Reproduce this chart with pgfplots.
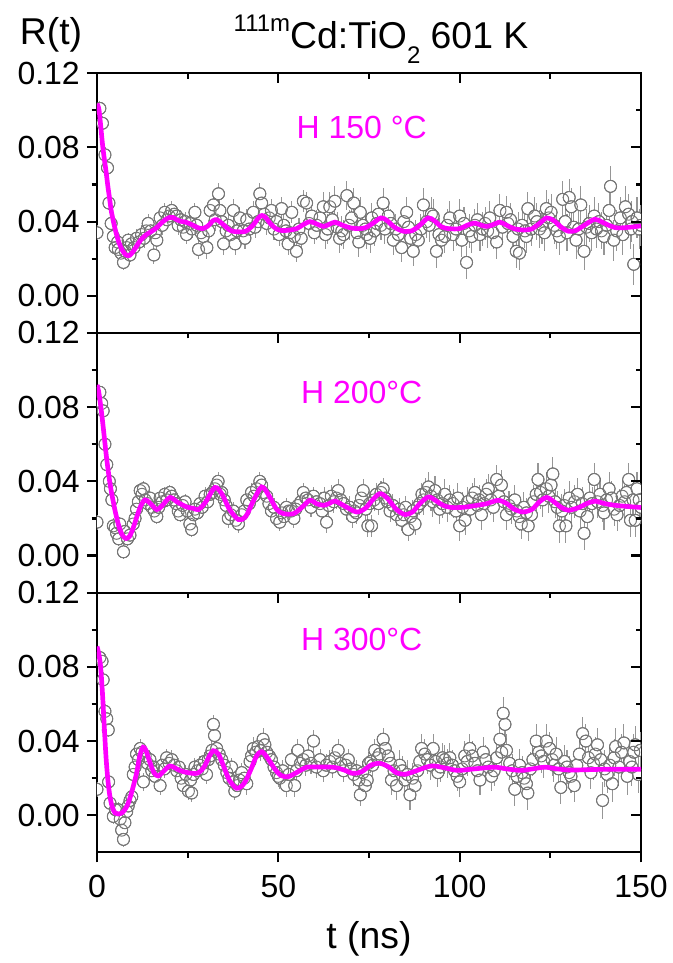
\documentclass[border=0pt]{standalone}
\usepackage{pgfplots}
\pgfplotsset{compat=1.18}
\usepackage{pgfplotstable}
\usepackage{fontspec}
\setmainfont{Liberation Sans}
\definecolor{fitmag}{RGB}{255,0,255}
\definecolor{ptgray}{RGB}{120,120,120}
\definecolor{errgray}{RGB}{150,150,150}

\pgfplotstableread[row sep=\\]{
t y e\\
0.0 0.034 0.004\\ 0.8 0.101 0.004\\ 1.5 0.093 0.004\\ 2.2 0.076 0.004\\ 2.9 0.069 0.004\\ 3.3 0.050 0.004\\ 3.9 0.039 0.004\\ 4.5 0.032 0.004\\
5.0 0.026 0.004\\ 5.7 0.029 0.004\\ 5.9 0.025 0.004\\ 6.6 0.023 0.004\\ 7.3 0.018 0.004\\ 7.8 0.024 0.004\\ 8.2 0.026 0.004\\ 8.6 0.030 0.004\\
9.1 0.022 0.004\\ 9.5 0.028 0.004\\ 10.2 0.026 0.005\\ 10.9 0.031 0.005\\ 11.6 0.029 0.005\\ 12.3 0.033 0.005\\ 13.0 0.031 0.005\\ 13.6 0.035 0.005\\
14.1 0.039 0.005\\ 14.8 0.035 0.005\\ 15.7 0.022 0.005\\ 16.1 0.034 0.005\\ 16.5 0.030 0.005\\ 17.4 0.042 0.005\\ 18.0 0.038 0.005\\ 18.7 0.045 0.005\\
19.3 0.041 0.005\\ 19.9 0.043 0.005\\ 20.6 0.046 0.005\\ 21.3 0.044 0.005\\ 22.0 0.043 0.005\\ 22.4 0.038 0.005\\ 23.1 0.041 0.005\\ 23.8 0.037 0.005\\
24.3 0.040 0.005\\ 24.7 0.033 0.005\\ 25.6 0.039 0.005\\ 26.2 0.036 0.005\\ 27.0 0.045 0.005\\ 27.5 0.038 0.005\\ 28.0 0.025 0.005\\ 28.7 0.034 0.005\\
29.3 0.032 0.005\\ 30.3 0.026 0.006\\ 30.8 0.035 0.006\\ 31.2 0.046 0.006\\ 32.1 0.049 0.006\\ 32.6 0.041 0.006\\ 33.5 0.055 0.006\\ 33.9 0.046 0.006\\
34.4 0.040 0.006\\ 34.9 0.028 0.006\\ 35.6 0.035 0.006\\ 36.2 0.038 0.006\\ 36.9 0.033 0.006\\ 37.6 0.046 0.006\\ 38.1 0.028 0.006\\ 38.6 0.035 0.006\\
39.4 0.042 0.006\\ 40.3 0.035 0.006\\ 40.8 0.031 0.006\\ 41.3 0.041 0.006\\ 42.0 0.036 0.006\\ 43.1 0.045 0.006\\ 43.6 0.037 0.006\\ 44.4 0.040 0.006\\
44.9 0.055 0.006\\ 45.4 0.050 0.006\\ 46.1 0.044 0.006\\ 46.8 0.039 0.006\\ 47.5 0.042 0.006\\ 48.1 0.046 0.006\\ 48.8 0.036 0.006\\ 49.5 0.040 0.006\\
50.2 0.033 0.006\\ 50.9 0.047 0.006\\ 51.5 0.038 0.006\\ 52.1 0.035 0.006\\ 52.7 0.028 0.006\\ 53.2 0.034 0.006\\ 53.7 0.045 0.006\\ 54.4 0.032 0.006\\
55.0 0.024 0.006\\ 55.7 0.036 0.006\\ 56.3 0.031 0.006\\ 56.9 0.051 0.006\\ 57.8 0.050 0.006\\ 58.5 0.039 0.006\\ 59.2 0.043 0.006\\ 59.9 0.034 0.006\\
60.6 0.038 0.008\\ 61.5 0.042 0.008\\ 62.4 0.048 0.008\\ 63.0 0.033 0.008\\ 63.6 0.036 0.008\\ 64.2 0.048 0.008\\ 64.9 0.041 0.008\\ 65.6 0.051 0.008\\
66.2 0.037 0.008\\ 66.9 0.031 0.008\\ 67.5 0.035 0.008\\ 68.0 0.033 0.008\\ 68.9 0.054 0.008\\ 69.5 0.038 0.008\\ 70.2 0.042 0.008\\ 70.8 0.050 0.008\\
71.7 0.034 0.008\\ 72.2 0.029 0.008\\ 72.6 0.045 0.008\\ 73.3 0.038 0.008\\ 74.0 0.036 0.008\\ 74.4 0.033 0.008\\ 75.3 0.031 0.008\\ 75.8 0.042 0.008\\
76.5 0.035 0.008\\ 77.1 0.039 0.008\\ 77.6 0.044 0.008\\ 78.3 0.038 0.008\\ 78.9 0.050 0.008\\ 79.4 0.036 0.008\\ 80.3 0.043 0.008\\ 81.0 0.039 0.008\\
81.7 0.030 0.008\\ 82.4 0.036 0.008\\ 83.1 0.033 0.008\\ 84.0 0.026 0.008\\ 84.6 0.040 0.008\\ 85.4 0.045 0.008\\ 85.9 0.037 0.008\\ 86.5 0.031 0.008\\
87.2 0.024 0.008\\ 87.9 0.033 0.008\\ 88.6 0.030 0.008\\ 89.3 0.036 0.008\\ 90.0 0.049 0.009\\ 90.9 0.040 0.009\\ 91.6 0.038 0.009\\ 92.2 0.044 0.009\\
92.7 0.043 0.009\\ 93.6 0.024 0.009\\ 94.3 0.033 0.009\\ 95.0 0.030 0.009\\ 95.9 0.032 0.009\\ 96.6 0.038 0.009\\ 97.3 0.042 0.009\\ 98.2 0.033 0.009\\
99.0 0.036 0.009\\ 100.0 0.043 0.009\\ 100.6 0.030 0.009\\ 101.2 0.039 0.009\\ 101.9 0.018 0.009\\ 102.6 0.035 0.009\\ 103.3 0.032 0.009\\ 104.2 0.038 0.009\\
104.9 0.041 0.009\\ 105.6 0.033 0.009\\ 106.3 0.036 0.009\\ 107.0 0.039 0.009\\ 107.7 0.035 0.009\\ 108.3 0.042 0.009\\ 109.2 0.034 0.009\\ 110.2 0.029 0.009\\
111.1 0.046 0.009\\ 111.8 0.037 0.009\\ 112.9 0.045 0.009\\ 113.3 0.039 0.009\\ 114.0 0.041 0.009\\ 114.7 0.032 0.009\\ 115.6 0.024 0.009\\ 116.1 0.036 0.009\\
116.5 0.023 0.009\\ 117.2 0.038 0.009\\ 118.0 0.035 0.009\\ 118.4 0.032 0.009\\ 118.8 0.047 0.009\\ 119.7 0.036 0.009\\ 120.7 0.043 0.010\\ 121.3 0.040 0.010\\
122.0 0.036 0.010\\ 122.7 0.038 0.010\\ 123.4 0.034 0.010\\ 123.9 0.047 0.010\\ 124.6 0.042 0.010\\ 125.2 0.045 0.010\\ 126.1 0.038 0.010\\ 126.8 0.035 0.010\\
127.5 0.032 0.010\\ 128.4 0.052 0.010\\ 129.1 0.040 0.010\\ 129.6 0.034 0.010\\ 130.2 0.053 0.010\\ 130.8 0.048 0.010\\ 131.4 0.037 0.010\\ 132.1 0.030 0.010\\
132.8 0.036 0.010\\ 133.4 0.049 0.010\\ 134.3 0.024 0.010\\ 135.0 0.037 0.010\\ 135.7 0.039 0.010\\ 136.4 0.034 0.010\\ 137.1 0.043 0.010\\ 137.7 0.036 0.010\\
138.4 0.040 0.010\\ 139.1 0.035 0.010\\ 139.8 0.032 0.010\\ 140.5 0.038 0.010\\ 141.2 0.046 0.010\\ 141.6 0.059 0.011\\ 142.5 0.030 0.011\\ 143.3 0.035 0.011\\
144.3 0.042 0.011\\ 145.0 0.033 0.011\\ 145.7 0.048 0.011\\ 146.6 0.044 0.011\\ 147.2 0.036 0.011\\ 147.5 0.040 0.011\\ 148.0 0.017 0.011\\ 148.9 0.042 0.011\\
149.5 0.036 0.011\\ 150.0 0.038 0.011\\
}\dataA

\pgfplotstableread[row sep=\\]{
t y e\\
0.0 0.018 0.004\\ 0.8 0.088 0.004\\ 1.3 0.082 0.004\\ 1.7 0.078 0.004\\ 2.2 0.060 0.004\\ 2.7 0.049 0.004\\ 3.4 0.040 0.004\\ 3.7 0.036 0.004\\
4.1 0.030 0.004\\ 4.5 0.016 0.004\\ 5.0 0.015 0.004\\ 5.4 0.012 0.004\\ 6.0 0.009 0.004\\ 6.3 0.017 0.004\\ 7.3 0.002 0.004\\ 7.7 0.013 0.004\\
8.4 0.009 0.004\\ 9.1 0.011 0.004\\ 10.0 0.017 0.004\\ 10.5 0.020 0.004\\ 10.9 0.025 0.004\\ 11.4 0.029 0.004\\ 11.9 0.035 0.004\\ 12.4 0.033 0.004\\
12.8 0.036 0.004\\ 13.3 0.030 0.004\\ 14.0 0.028 0.004\\ 14.6 0.031 0.004\\ 15.1 0.026 0.004\\ 15.8 0.024 0.004\\ 16.5 0.021 0.004\\ 17.0 0.026 0.004\\
17.4 0.031 0.004\\ 18.0 0.029 0.004\\ 18.7 0.033 0.004\\ 19.3 0.030 0.004\\ 20.1 0.034 0.004\\ 20.6 0.032 0.004\\ 21.2 0.030 0.004\\ 21.8 0.028 0.004\\
22.4 0.024 0.004\\ 22.9 0.022 0.004\\ 23.6 0.027 0.004\\ 24.3 0.029 0.004\\ 24.9 0.024 0.004\\ 25.6 0.017 0.004\\ 26.1 0.014 0.004\\ 26.6 0.022 0.004\\
27.0 0.025 0.004\\ 27.7 0.023 0.004\\ 28.4 0.028 0.005\\ 29.0 0.026 0.005\\ 29.8 0.032 0.005\\ 30.5 0.029 0.005\\ 31.2 0.033 0.005\\ 31.8 0.034 0.005\\
32.5 0.036 0.005\\ 33.0 0.038 0.005\\ 33.4 0.040 0.005\\ 34.0 0.033 0.005\\ 34.4 0.034 0.005\\ 35.1 0.030 0.005\\ 35.6 0.027 0.005\\ 36.2 0.020 0.005\\
36.9 0.022 0.005\\ 37.6 0.024 0.005\\ 38.3 0.019 0.005\\ 39.0 0.017 0.005\\ 39.9 0.022 0.005\\ 40.6 0.024 0.005\\ 41.3 0.030 0.005\\ 42.0 0.028 0.005\\
42.6 0.034 0.005\\ 43.3 0.032 0.005\\ 44.0 0.036 0.005\\ 44.9 0.040 0.005\\ 45.4 0.038 0.005\\ 45.8 0.034 0.005\\ 46.8 0.032 0.005\\ 47.4 0.028 0.005\\
48.1 0.024 0.005\\ 48.8 0.026 0.005\\ 49.5 0.020 0.005\\ 50.4 0.018 0.005\\ 51.0 0.023 0.005\\ 51.6 0.021 0.005\\ 52.2 0.026 0.005\\ 52.9 0.024 0.005\\
53.6 0.024 0.005\\ 54.3 0.020 0.005\\ 54.8 0.025 0.005\\ 55.4 0.027 0.005\\ 56.2 0.029 0.005\\ 56.9 0.034 0.005\\ 57.6 0.031 0.005\\ 58.2 0.030 0.005\\
59.0 0.026 0.005\\ 59.7 0.032 0.005\\ 60.5 0.029 0.006\\ 61.5 0.028 0.006\\ 62.1 0.024 0.006\\ 62.7 0.031 0.006\\ 63.3 0.018 0.006\\ 63.9 0.027 0.006\\
64.6 0.032 0.006\\ 65.3 0.029 0.006\\ 66.0 0.031 0.006\\ 66.5 0.035 0.006\\ 67.2 0.030 0.006\\ 68.0 0.028 0.006\\ 68.8 0.025 0.006\\ 69.7 0.026 0.006\\
70.5 0.021 0.006\\ 71.0 0.024 0.006\\ 71.5 0.023 0.006\\ 72.3 0.027 0.006\\ 72.9 0.031 0.006\\ 73.4 0.035 0.006\\ 74.1 0.025 0.006\\ 74.7 0.016 0.006\\
75.2 0.028 0.006\\ 75.7 0.016 0.006\\ 76.4 0.030 0.006\\ 77.0 0.033 0.006\\ 77.6 0.028 0.006\\ 78.3 0.034 0.006\\ 78.9 0.036 0.006\\ 79.5 0.031 0.006\\
80.1 0.029 0.006\\ 80.8 0.024 0.006\\ 81.6 0.027 0.006\\ 82.6 0.022 0.006\\ 83.3 0.025 0.006\\ 84.0 0.019 0.006\\ 84.6 0.022 0.006\\ 85.1 0.026 0.006\\
85.8 0.014 0.006\\ 86.5 0.021 0.006\\ 87.1 0.024 0.006\\ 87.7 0.017 0.006\\ 88.3 0.026 0.006\\ 89.0 0.028 0.006\\ 89.6 0.033 0.006\\ 90.0 0.030 0.008\\
90.7 0.034 0.008\\ 91.4 0.037 0.008\\ 92.1 0.032 0.008\\ 92.6 0.029 0.008\\ 93.2 0.035 0.008\\ 93.8 0.030 0.008\\ 94.5 0.025 0.008\\ 95.2 0.028 0.008\\
95.9 0.033 0.008\\ 96.6 0.026 0.008\\ 97.3 0.030 0.008\\ 98.2 0.028 0.008\\ 99.0 0.024 0.008\\ 99.5 0.031 0.008\\ 100.0 0.016 0.008\\ 100.8 0.026 0.008\\
101.5 0.019 0.008\\ 102.2 0.029 0.008\\ 102.9 0.025 0.008\\ 103.5 0.031 0.008\\ 104.2 0.034 0.008\\ 104.9 0.027 0.008\\ 105.4 0.030 0.008\\ 106.0 0.022 0.008\\
106.7 0.028 0.008\\ 107.3 0.033 0.008\\ 107.9 0.036 0.008\\ 108.6 0.030 0.008\\ 109.3 0.026 0.008\\ 110.2 0.041 0.008\\ 110.8 0.032 0.008\\ 111.5 0.038 0.008\\
112.2 0.029 0.008\\ 112.9 0.022 0.008\\ 113.6 0.027 0.008\\ 114.3 0.025 0.008\\ 115.2 0.030 0.008\\ 115.8 0.024 0.008\\ 116.4 0.021 0.008\\ 117.0 0.017 0.008\\
117.7 0.026 0.008\\ 118.4 0.023 0.008\\ 118.9 0.016 0.008\\ 119.8 0.022 0.008\\ 120.4 0.029 0.009\\ 121.1 0.033 0.009\\ 121.6 0.041 0.009\\ 122.3 0.034 0.009\\
122.9 0.030 0.009\\ 123.9 0.036 0.009\\ 124.6 0.032 0.009\\ 125.2 0.038 0.009\\ 125.7 0.044 0.009\\ 126.3 0.029 0.009\\ 126.9 0.026 0.009\\ 127.5 0.016 0.009\\
128.2 0.024 0.009\\ 128.8 0.027 0.009\\ 129.3 0.016 0.009\\ 130.2 0.031 0.009\\ 130.9 0.026 0.009\\ 131.7 0.029 0.009\\ 132.5 0.033 0.009\\ 133.2 0.024 0.009\\
133.8 0.028 0.009\\ 134.3 0.012 0.009\\ 135.2 0.021 0.009\\ 135.9 0.031 0.009\\ 136.5 0.028 0.009\\ 137.1 0.041 0.009\\ 138.0 0.029 0.009\\ 138.7 0.033 0.009\\
139.4 0.027 0.009\\ 139.8 0.023 0.009\\ 140.5 0.030 0.009\\ 141.2 0.036 0.009\\ 141.9 0.031 0.009\\ 142.6 0.025 0.009\\ 143.4 0.022 0.009\\ 144.1 0.027 0.009\\
144.8 0.032 0.009\\ 145.5 0.029 0.009\\ 146.0 0.034 0.009\\ 146.6 0.041 0.009\\ 147.1 0.019 0.009\\ 147.8 0.030 0.009\\ 148.4 0.019 0.009\\ 148.9 0.036 0.009\\
149.5 0.030 0.009\\ 150.0 0.026 0.009\\
}\dataB

\pgfplotstableread[row sep=\\]{
t y e\\
0.0 0.014 0.004\\ 0.8 0.085 0.004\\ 1.4 0.083 0.004\\ 1.7 0.073 0.004\\ 2.2 0.056 0.004\\ 2.7 0.052 0.004\\ 3.1 0.046 0.004\\ 3.2 0.018 0.004\\
3.6 0.0065 0.004\\ 4.5 -0.0006 0.004\\ 5.1 0.003 0.004\\ 5.9 0.003 0.004\\ 6.4 -0.002 0.004\\ 6.8 -0.008 0.004\\ 7.3 -0.013 0.004\\ 7.7 -0.004 0.004\\
8.2 0.002 0.004\\ 8.6 0.005 0.004\\ 9.1 0.008 0.004\\ 9.6 0.010 0.004\\ 10.0 0.022 0.005\\ 10.5 0.026 0.005\\ 10.9 0.033 0.005\\ 11.4 0.030 0.005\\
11.9 0.036 0.005\\ 12.4 0.034 0.005\\ 12.8 0.018 0.005\\ 13.3 0.032 0.005\\ 13.9 0.028 0.005\\ 14.6 0.030 0.005\\ 15.1 0.024 0.005\\ 15.6 0.026 0.005\\
16.0 0.021 0.005\\ 16.7 0.024 0.005\\ 17.4 0.016 0.005\\ 18.0 0.027 0.005\\ 18.6 0.025 0.005\\ 19.2 0.031 0.005\\ 19.9 0.028 0.005\\ 20.6 0.030 0.005\\
21.3 0.027 0.005\\ 22.0 0.024 0.005\\ 22.6 0.026 0.005\\ 23.2 0.020 0.005\\ 23.8 0.016 0.005\\ 24.5 0.022 0.005\\ 25.2 0.013 0.005\\ 25.8 0.019 0.005\\
26.1 0.012 0.005\\ 26.6 0.022 0.005\\ 27.0 0.026 0.005\\ 27.7 0.024 0.005\\ 28.4 0.027 0.005\\ 29.0 0.025 0.005\\ 29.6 0.029 0.005\\ 30.2 0.022 0.005\\
30.7 0.030 0.005\\ 31.2 0.032 0.005\\ 31.7 0.035 0.005\\ 32.1 0.049 0.005\\ 32.4 0.043 0.005\\ 33.0 0.036 0.005\\ 33.7 0.033 0.005\\ 34.4 0.030 0.005\\
35.1 0.027 0.005\\ 35.8 0.023 0.005\\ 36.4 0.020 0.005\\ 37.1 0.026 0.005\\ 37.5 0.018 0.005\\ 38.0 0.013 0.005\\ 38.7 0.016 0.005\\ 39.3 0.019 0.005\\
39.9 0.023 0.005\\ 40.6 0.020 0.006\\ 41.3 0.017 0.006\\ 42.2 0.029 0.006\\ 42.6 0.032 0.006\\ 43.1 0.036 0.006\\ 43.8 0.034 0.006\\ 44.4 0.037 0.006\\
45.1 0.035 0.006\\ 45.8 0.041 0.006\\ 46.3 0.038 0.006\\ 46.8 0.034 0.006\\ 47.5 0.032 0.006\\ 48.1 0.030 0.006\\ 48.8 0.026 0.006\\ 49.5 0.023 0.006\\
50.0 0.021 0.006\\ 50.4 0.020 0.006\\ 51.2 0.024 0.006\\ 52.2 0.016 0.006\\ 52.9 0.022 0.006\\ 53.6 0.030 0.006\\ 54.5 0.016 0.006\\ 55.0 0.024 0.006\\
55.4 0.035 0.006\\ 56.1 0.028 0.006\\ 56.9 0.030 0.006\\ 57.6 0.027 0.006\\ 58.2 0.032 0.006\\ 59.0 0.028 0.006\\ 59.7 0.040 0.006\\ 60.5 0.026 0.006\\
61.5 0.030 0.006\\ 62.4 0.024 0.006\\ 63.2 0.027 0.006\\ 64.2 0.029 0.006\\ 64.9 0.026 0.006\\ 65.6 0.031 0.006\\ 66.5 0.035 0.006\\ 67.2 0.028 0.006\\
68.0 0.024 0.006\\ 68.6 0.027 0.006\\ 69.3 0.030 0.006\\ 70.0 0.025 0.006\\ 70.8 0.022 0.006\\ 71.6 0.024 0.006\\ 72.2 0.019 0.006\\ 72.6 0.011 0.006\\
73.3 0.023 0.006\\ 74.0 0.016 0.006\\ 74.5 0.019 0.006\\ 74.9 0.028 0.006\\ 75.5 0.029 0.006\\ 76.0 0.027 0.006\\ 76.6 0.035 0.006\\ 77.3 0.031 0.006\\
77.9 0.033 0.006\\ 78.9 0.041 0.006\\ 79.5 0.036 0.006\\ 80.3 0.032 0.008\\ 80.9 0.028 0.008\\ 81.2 0.019 0.008\\ 81.9 0.024 0.008\\ 82.6 0.016 0.008\\
83.5 0.027 0.008\\ 84.2 0.024 0.008\\ 84.9 0.019 0.008\\ 85.6 0.022 0.008\\ 86.3 0.011 0.008\\ 87.0 0.020 0.008\\ 87.7 0.016 0.008\\ 88.4 0.024 0.008\\
89.0 0.029 0.008\\ 89.5 0.036 0.008\\ 90.4 0.033 0.008\\ 91.1 0.030 0.008\\ 91.9 0.027 0.008\\ 92.7 0.036 0.008\\ 93.4 0.029 0.008\\ 94.0 0.023 0.008\\
94.7 0.026 0.008\\ 95.3 0.031 0.008\\ 95.9 0.030 0.008\\ 96.6 0.028 0.008\\ 97.3 0.031 0.008\\ 98.0 0.027 0.008\\ 98.6 0.024 0.008\\ 99.3 0.021 0.008\\
100.0 0.018 0.008\\ 100.7 0.025 0.008\\ 101.4 0.032 0.008\\ 102.1 0.029 0.008\\ 102.8 0.036 0.008\\ 103.5 0.032 0.008\\ 104.2 0.028 0.008\\ 104.9 0.024 0.008\\
105.6 0.019 0.008\\ 106.5 0.034 0.008\\ 107.2 0.030 0.008\\ 107.9 0.026 0.008\\ 108.8 0.021 0.008\\ 109.5 0.024 0.008\\ 110.2 0.031 0.008\\ 111.1 0.041 0.009\\
111.6 0.034 0.009\\ 112.0 0.055 0.009\\ 112.5 0.049 0.009\\ 112.9 0.035 0.009\\ 113.8 0.028 0.009\\ 114.5 0.024 0.009\\ 115.2 0.014 0.009\\ 115.8 0.021 0.009\\
116.5 0.027 0.009\\ 117.2 0.023 0.009\\ 117.8 0.020 0.009\\ 118.4 0.017 0.009\\ 118.8 0.012 0.009\\ 119.5 0.025 0.009\\ 120.2 0.030 0.009\\ 121.1 0.040 0.009\\
121.8 0.034 0.009\\ 122.5 0.032 0.009\\ 123.2 0.029 0.009\\ 123.9 0.040 0.009\\ 124.8 0.036 0.009\\ 125.5 0.030 0.009\\ 126.0 0.027 0.009\\ 126.6 0.033 0.009\\
127.3 0.025 0.009\\ 127.9 0.015 0.009\\ 128.9 0.029 0.009\\ 129.6 0.026 0.009\\ 130.2 0.023 0.009\\ 130.7 0.021 0.009\\ 131.6 0.016 0.009\\ 132.3 0.027 0.009\\
133.0 0.033 0.009\\ 133.9 0.044 0.009\\ 134.8 0.040 0.009\\ 135.5 0.031 0.009\\ 136.2 0.023 0.009\\ 136.9 0.028 0.009\\ 137.4 0.033 0.009\\ 138.0 0.038 0.009\\
138.9 0.030 0.010\\ 139.4 0.008 0.010\\ 140.0 0.025 0.010\\ 140.7 0.022 0.010\\ 141.4 0.027 0.010\\ 142.1 0.017 0.010\\ 142.6 0.031 0.010\\ 143.0 0.037 0.010\\
143.9 0.026 0.010\\ 144.6 0.034 0.010\\ 145.3 0.039 0.010\\ 146.2 0.021 0.010\\ 146.9 0.029 0.010\\ 147.5 0.026 0.010\\ 148.0 0.034 0.010\\ 148.4 0.038 0.010\\
149.3 0.022 0.010\\ 149.8 0.035 0.010\\
}\dataC

\pgfplotsset{
  base/.style={width=408pt, height=194.8pt, scale only axis, anchor=south west,
    xmin=0, xmax=150, ymin=-0.02, ymax=0.12},
  main/.style={base,
    clip marker paths=true,
    axis line style={line width=1.6pt},
    xtick={0,50,100,150}, minor xtick={25,75,125},
    ytick={0,0.04,0.08,0.12}, minor ytick={0.02,0.06,0.1},
    xtick pos=left, ytick pos=left, tick align=outside,
    major tick length=7.5pt, minor tick length=4pt,
    every tick/.append style={black, line width=1.6pt},
    every minor tick/.append style={black, line width=1.6pt},
    /pgf/number format/assume math mode=true,
    yticklabel style={font=\fontsize{24}{24}\selectfont, inner sep=0pt, xshift=-5.2pt,
      /pgf/number format/fixed, /pgf/number format/fixed zerofill, /pgf/number format/precision=2},
    xticklabel style={font=\fontsize{24}{24}\selectfont, inner sep=0pt, yshift=-9.5pt},
  },
  over/.style={base,
    axis line style={draw=none},
    xtick={0,50,100,150}, minor xtick={25,75,125},
    ytick={0,0.04,0.08,0.12}, minor ytick={0.02,0.06,0.1},
    xtick pos=right, ytick pos=right, tick align=inside,
    major tick length=7.5pt, minor tick length=4pt,
    every tick/.append style={black, line width=1.6pt},
    every minor tick/.append style={black, line width=1.6pt},
    xticklabels={}, yticklabels={},
  },
  errs/.style={only marks, mark=none, error bars/.cd, y dir=both, y explicit,
    error mark=none, error bar style={draw=errgray, line width=0.8pt}},
  wfill/.style={only marks, mark=*, mark size=4.5pt, mark options={draw=none, fill=white}},
  circ/.style={only marks, mark=o, mark size=4.5pt, mark options={draw=ptgray, line width=0.75pt}},
  fit/.style={fitmag, line width=3.5pt, smooth, mark=none},
}

\begin{document}
\begin{tikzpicture}
\path[use as bounding box] (-72.75pt,-82.95pt) rectangle (432pt,639.3pt);

% ---------- top panel ----------
\begin{axis}[main, at={(0pt,389.6pt)}, xticklabels={}]
\addplot[errs] table[x=t, y=y, y error=e] {\dataA};
\addplot[wfill] table[x=t, y=y] {\dataA};
\addplot[circ] table[x=t, y=y] {\dataA};
\addplot[fit] coordinates {
(0,0.1035)(0.5,0.101)(1,0.092)(1.5,0.082)(2,0.074)(2.5,0.067)(3,0.059)(3.5,0.052)(4,0.045)(5,0.036)(6,0.029)(7,0.0245)(8,0.022)(9,0.0218)(10,0.024)(11,0.027)(12,0.030)(13,0.032)(14,0.0335)(15,0.0347)(16,0.036)(17,0.0378)(18,0.0397)(19,0.0412)(20,0.0422)(21,0.0422)(22,0.041)(23,0.0402)(24.5,0.0397)(26,0.0385)(27.5,0.037)(29,0.0362)(30.5,0.0375)(32,0.0405)(33,0.041)(34,0.0398)(35.5,0.0372)(37,0.035)(39,0.0345)(41,0.0348)(43,0.038)(44.5,0.042)(45.5,0.0433)(46.5,0.0422)(48,0.0385)(49.5,0.036)(51,0.0352)(53,0.0354)(55,0.0362)(57,0.0385)(58.7,0.040)(60.5,0.0388)(62.4,0.0374)(64,0.0385)(65.6,0.0397)(67.5,0.0382)(69.8,0.0367)(72,0.0362)(74,0.0367)(76,0.039)(78.3,0.042)(80,0.0405)(82,0.037)(84.5,0.0348)(87,0.0352)(89,0.038)(91.3,0.042)(93,0.0405)(95,0.0372)(97,0.0362)(100,0.0362)(102,0.038)(104.2,0.0392)(106,0.038)(107.5,0.0374)(109,0.0382)(111.1,0.0397)(113,0.038)(115,0.0362)(117.5,0.0355)(119.8,0.036)(122,0.039)(124,0.042)(126,0.0405)(128,0.037)(130,0.0348)(132,0.0352)(134.5,0.0382)(137.3,0.0413)(139.5,0.0395)(142.8,0.0368)(146,0.0368)(150,0.0377)
};
\node[text=fitmag, font=\fontsize{24}{24}\selectfont] at (axis cs:73,0.091) {H 150 °C};
\end{axis}
\begin{axis}[over, at={(0pt,389.6pt)}]
\addplot[draw=none] coordinates {(0,0)};
\end{axis}

% ---------- middle panel ----------
\begin{axis}[main, at={(0pt,194.8pt)}, xticklabels={}]
\addplot[errs] table[x=t, y=y, y error=e] {\dataB};
\addplot[wfill] table[x=t, y=y] {\dataB};
\addplot[circ] table[x=t, y=y] {\dataB};
\addplot[fit] coordinates {
(0,0.092)(0.5,0.088)(1,0.081)(1.5,0.073)(2,0.064)(2.5,0.055)(3,0.047)(3.5,0.040)(4,0.034)(4.5,0.029)(5,0.024)(6,0.016)(7,0.011)(8,0.0092)(9,0.0105)(10,0.015)(11,0.021)(12,0.0265)(13.2,0.030)(14.5,0.0285)(16.5,0.0248)(18,0.027)(20.1,0.0313)(22,0.029)(24.7,0.0262)(26.5,0.0255)(28,0.0248)(30,0.029)(32.5,0.0367)(34.5,0.033)(36.5,0.025)(39,0.0194)(41,0.021)(43,0.029)(45.4,0.037)(47.5,0.032)(49.5,0.025)(51.4,0.0226)(54.2,0.0226)(56.5,0.026)(58.7,0.0298)(60.5,0.028)(62.4,0.0271)(64,0.028)(65.6,0.0294)(68,0.027)(71.5,0.0235)(73.9,0.0253)(76,0.030)(78,0.0334)(80,0.031)(82.5,0.025)(84.9,0.0221)(87,0.0235)(89,0.028)(91.4,0.0316)(93.5,0.0295)(95.5,0.027)(97.8,0.0259)(101,0.026)(104.2,0.0269)(107.5,0.028)(110.6,0.0298)(113,0.028)(115,0.025)(117.5,0.0235)(120,0.025)(122,0.029)(124,0.0313)(126,0.029)(128,0.026)(130,0.0244)(133,0.026)(135,0.028)(137.3,0.0293)(140,0.028)(142.8,0.0271)(146,0.0265)(150,0.0259)
};
\node[text=fitmag, font=\fontsize{24}{24}\selectfont] at (axis cs:73,0.088) {H 200°C};
\end{axis}
\begin{axis}[over, at={(0pt,194.8pt)}]
\addplot[draw=none] coordinates {(0,0)};
\end{axis}

% ---------- bottom panel ----------
\begin{axis}[main, at={(0pt,0pt)}]
\addplot[errs] table[x=t, y=y, y error=e] {\dataC};
\addplot[wfill] table[x=t, y=y] {\dataC};
\addplot[circ] table[x=t, y=y] {\dataC};
\addplot[fit] coordinates {
(0,0.091)(0.5,0.087)(1,0.080)(1.5,0.066)(2,0.048)(2.5,0.031)(3,0.019)(3.5,0.011)(4,0.006)(4.5,0.003)(5,0.0012)(5.9,0.0007)(7,0.0015)(8,0.004)(8.6,0.0065)(9.5,0.012)(10.9,0.0226)(11.8,0.032)(12.7,0.0367)(13.5,0.035)(14.5,0.029)(15.7,0.023)(16.9,0.0212)(18.5,0.024)(20.1,0.0266)(22,0.025)(23.8,0.0235)(27.5,0.0226)(29.5,0.026)(31,0.032)(32.1,0.0348)(33.5,0.033)(35,0.026)(36.5,0.019)(38.5,0.0146)(40.5,0.017)(42.5,0.025)(44,0.032)(45.4,0.0343)(47,0.031)(49,0.025)(50.7,0.0215)(52.7,0.0208)(55,0.023)(57.8,0.0259)(61,0.026)(65.1,0.0259)(68,0.0245)(70.6,0.0226)(73,0.0235)(75.5,0.027)(78,0.028)(80.5,0.026)(82.5,0.023)(84.9,0.0221)(88,0.024)(92.2,0.0266)(96,0.0255)(99.5,0.0242)(104,0.025)(109.6,0.0259)(113,0.025)(117,0.0242)(120,0.025)(123.5,0.0259)(127,0.025)(130.8,0.0244)(140,0.0248)(150,0.0248)
};
\node[text=fitmag, font=\fontsize{24}{24}\selectfont] at (axis cs:73,0.0947) {H 300°C};
\end{axis}
\begin{axis}[over, at={(0pt,0pt)}]
\addplot[draw=none] coordinates {(0,0)};
\end{axis}

% ---------- outer labels ----------
\node[anchor=base, font=\fontsize{28}{28}\selectfont] at (-34.5pt,606pt) {R(t)};
\node[anchor=base, font=\fontsize{28}{28}\selectfont] at (213pt,603pt)
  {\raisebox{0.45em}{\fontsize{18}{18}\selectfont 111m}Cd:TiO\raisebox{-0.4em}{\fontsize{18}{18}\selectfont 2} 601 K};
\node[anchor=base, font=\fontsize{28}{28}\selectfont] at (204pt,-71.7pt) {t (ns)};
\end{tikzpicture}
\end{document}
